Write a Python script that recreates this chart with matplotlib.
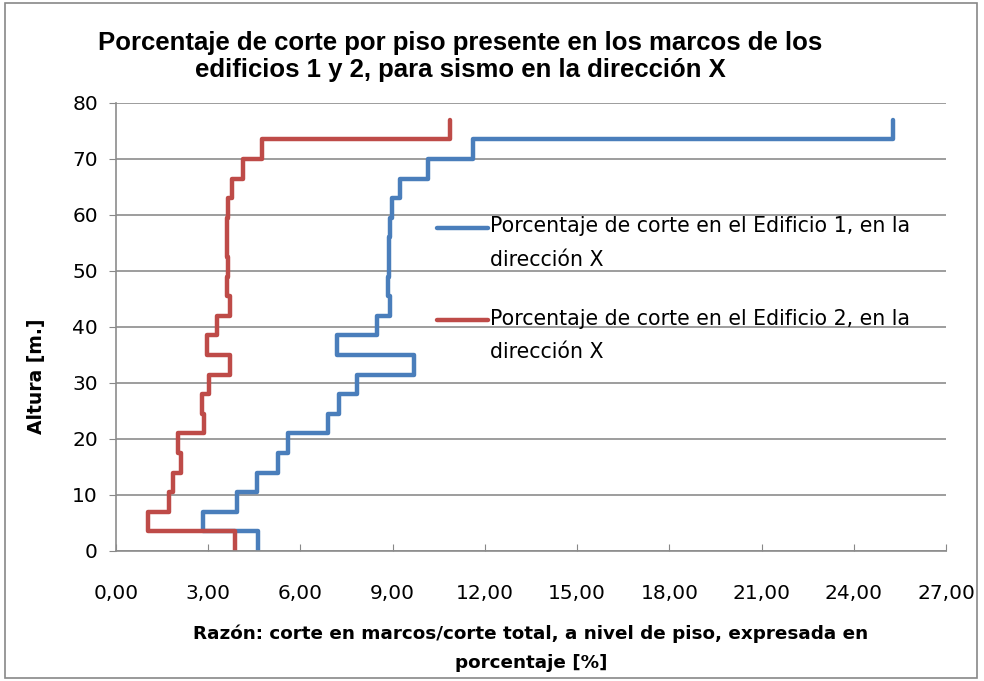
import numpy as np
import matplotlib.pyplot as plt
from matplotlib.patches import Rectangle
from matplotlib.legend_handler import HandlerLine2D

# alturas de piso [m.]
niveles = [0, 3.5, 7, 10.5, 14, 17.5, 21, 24.5, 28, 31.5, 35, 38.5,
           42, 45.5, 49, 52.5, 56, 59.5, 63, 66.5, 70, 73.5, 77]

# porcentaje de corte por piso (de abajo hacia arriba)
edificio1 = [4.63, 2.82, 3.95, 4.58, 5.26, 5.58, 6.90, 7.27, 7.83, 9.69, 7.18,
             8.48, 8.90, 8.85, 8.88, 8.88, 8.90, 8.97, 9.24, 10.16, 11.62, 25.27]
edificio2 = [3.87, 1.05, 1.72, 1.84, 2.10, 2.01, 2.86, 2.79, 3.04, 3.71, 2.95,
             3.30, 3.71, 3.60, 3.63, 3.62, 3.62, 3.65, 3.78, 4.14, 4.74, 10.85]

xticks = [0, 3, 6, 9, 12, 15, 18, 21, 24, 27]
yticks = [0, 10, 20, 30, 40, 50, 60, 70, 80]

etiqueta1 = "Porcentaje de corte en el Edificio 1, en la\ndirección X"
etiqueta2 = "Porcentaje de corte en el Edificio 2, en la\ndirección X"

azul = "#4a7ebb"
rojo = "#be4b48"
fuente = "DejaVu Sans"


def escalones(valores):
    # cada piso: tramo vertical en su valor, unidos por tramos horizontales
    x = np.repeat(valores, 2)
    y = np.repeat(niveles, 2)[1:-1]
    return x, y


class LineaArriba(HandlerLine2D):
    # la muestra de la leyenda queda a la altura de la primera linea del texto
    def create_artists(self, legend, orig_handle, xdescent, ydescent,
                       width, height, fontsize, trans):
        arts = super().create_artists(legend, orig_handle, xdescent, ydescent,
                                      width, height, fontsize, trans)
        for a in arts:
            a.set_ydata(np.asarray(a.get_ydata()) + 11.5)
        return arts


fig = plt.figure(figsize=(9.84, 6.81), dpi=100)
ax = fig.add_axes([116 / 984, 1 - 551 / 681, (946 - 116) / 984, (551 - 103) / 681])

fig.patches.append(Rectangle((5 / 984, 3 / 681), 972 / 984, 675 / 681,
                             transform=fig.transFigure, fill=False,
                             edgecolor="#888888", lw=1.2))

x1, y1 = escalones(edificio1)
x2, y2 = escalones(edificio2)
ax.plot(x1, y1, color=azul, lw=3.2, label=etiqueta1, solid_capstyle="round")
ax.plot(x2, y2, color=rojo, lw=3.2, label=etiqueta2, solid_capstyle="round")

ax.set_xlim(0, 27)
ax.set_ylim(0, 80)
ax.set_xticks(xticks)
ax.set_yticks(yticks)
ax.set_xticklabels([f"{t:.2f}".replace(".", ",") for t in xticks],
                   fontsize=14.5, family=fuente)
ax.set_yticklabels([str(t) for t in yticks], fontsize=14.5, family=fuente)
ax.tick_params(axis="x", direction="in", length=5, pad=24, color="#888888")
ax.tick_params(axis="y", direction="out", length=5, pad=8, color="#888888")
ax.grid(axis="y", color="#8c8c8c", lw=1.2)
ax.set_axisbelow(True)
for s in ["top", "right"]:
    ax.spines[s].set_visible(False)
for s in ["left", "bottom"]:
    ax.spines[s].set_color("#8c8c8c")
    ax.spines[s].set_linewidth(1.2)

ax.set_xlabel("Razón: corte en marcos/corte total, a nivel de piso, expresada en\nporcentaje [%]",
              fontsize=13.2, family=fuente, fontweight="bold", linespacing=1.8,
              labelpad=15)
ax.set_ylabel("Altura [m.]", fontsize=13.5, family=fuente, fontweight="bold")
ax.yaxis.set_label_coords(-0.084, 0.39)

fig.text(0.468, 0.955,
         "Porcentaje de corte por piso presente en los marcos de los\nedificios 1 y 2, para sismo en la dirección X",
         ha="center", va="top", fontsize=18.5, fontweight="bold",
         family="Liberation Sans", linespacing=1.2)

leg = ax.legend(loc="upper left", bbox_to_anchor=(0.364, 0.789), frameon=False,
                prop={"family": fuente, "size": 14.8}, handlelength=2.5,
                handletextpad=0.1, labelspacing=1.9,
                handler_map={plt.Line2D: LineaArriba()})
for t in leg.get_texts():
    t.set_linespacing(1.85)

fig.savefig("out.png", dpi=100)
